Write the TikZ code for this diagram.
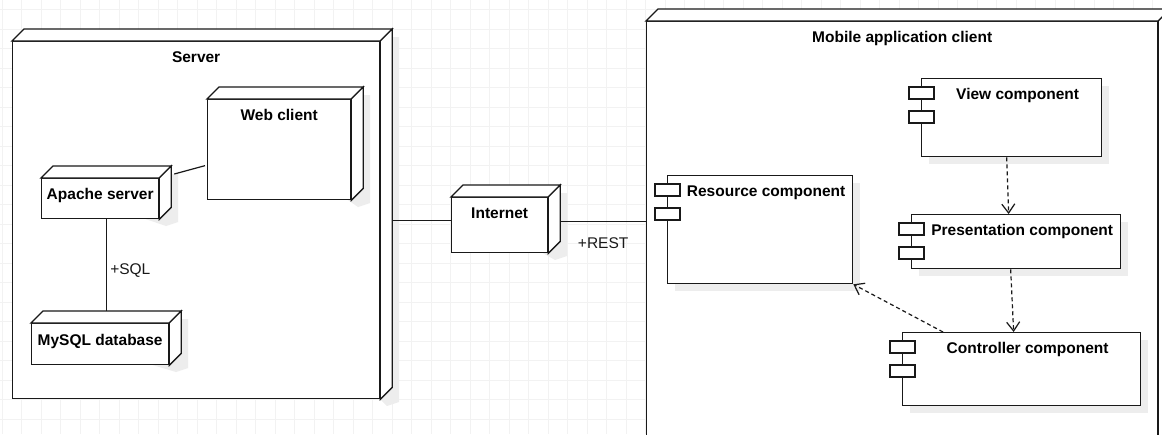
\documentclass[tikz,border=0pt]{standalone}
\usepackage{fontspec}
\setmainfont{Liberation Sans}
\usetikzlibrary{arrows.meta,positioning,calc}

\begin{document}
\begin{tikzpicture}[x=1pt,y=-1pt,line join=miter,
  box/.style={draw=black!90,line width=1.3pt,fill=white},
  shade3d/.style={fill=black!7},
  cube/.style={box,inner sep=0pt,anchor=north west,font=\fontsize{15.5}{18}\selectfont\bfseries,text height=11.5pt,text depth=9pt},
  title/.style={inner sep=0pt,font=\fontsize{15.5}{18}\selectfont\bfseries,text height=11.5pt,text depth=0pt},
  link/.style={black!90,line width=1.2pt},
  dep/.style={link,dash pattern=on 4pt off 3pt,-{Straight Barb[length=9pt,width=13pt,line width=1.2pt]}},
  elabel/.style={inner sep=0pt,font=\fontsize{15.5}{18}\selectfont,text height=11.5pt,text depth=0pt},
  gridline/.style={black!5,line width=0.7pt}]
\useasboundingbox (0,0) rectangle (1162,434);
\clip (0,0) rectangle (1162,434);
% 3d node: name, left, top, right, bottom, text
\def\nodecube#1#2#3#4#5#6{%
  \fill[shade3d] (#2+8,#3+8) -- (#2+20,#3-4) -- (#4+20,#3-4) -- (#4+20,#5+4) -- (#4+8,#5+8) -- cycle;
  \node[cube,minimum width=#4pt-#2pt,minimum height=#5pt-#3pt] (#1) at (#2,#3) {#6};
  \draw[box] (#1.north west) -- ++(12,-12) -- ([shift={(12,-12)}]#1.north east) -- (#1.north east) -- cycle;
  \draw[box] (#1.north east) -- ([shift={(12,-12)}]#1.north east) -- ([shift={(12,-12)}]#1.south east) -- (#1.south east) -- cycle;
}
% component box with two tabs
\def\umlcomp#1#2#3#4#5#6{%
  \fill[shade3d] (#2+8,#3+8) rectangle (#4+8,#5+8);
  \node[cube,minimum width=#4pt-#2pt,minimum height=#5pt-#3pt] (#1) at (#2,#3) {};
  \node[title,xshift=6pt] (#1-name) at ([yshift=-16pt]#1.north) {#6};
  \foreach \t in {9,33} \draw[box] ([shift={(-12,\t)}]#1.north west) rectangle ++(25,12);
}
% grid
\foreach \i in {0,...,59} \draw[gridline] (2.2+19.5*\i,0) -- ++(0,434);
\foreach \j in {0,...,22} \draw[gridline] (0,9.8+19.5*\j) -- ++(1162,0);
% server side
\nodecube{server}{12}{41}{379}{398}{}
\node[title] (server-name) at ([yshift=-16pt]server.north) {Server};
\nodecube{web}{207}{99}{350}{199}{}
\node[title] (web-name) at ([yshift=-16pt]web.north) {Web client};
\nodecube{apache}{41}{178}{158}{218}{Apache server}
\nodecube{mysql}{31}{323}{168}{364}{MySQL database}
\draw[link] ([shift={(15,-4)}]apache.north east) -- ([shift={(-2,16)}]web.west);
\draw[link] ([xshift=6pt]apache.south) -- node[elabel,right=3.5pt,pos=0.54] (sql-lbl) {+SQL} ([shift={(6,-12)}]mysql.north);
% internet
\nodecube{internet}{451}{197}{547}{252}{}
\node[title] (internet-name) at ([yshift=-16pt]internet.north) {Internet};
% mobile client
\nodecube{mobile}{646}{21}{1157}{470}{}
\node[title] (mobile-name) at ([yshift=-16pt]mobile.north) {Mobile application client};
\foreach \n/\xa/\ya/\xb/\yb/\txt in {view/921/78/1101/156/View component,
    res/667/175/852/283/Resource component,
    pres/911/214/1120/268/Presentation component,
    ctrl/902/332/1140/405/Controller component}
  {\umlcomp{\n}{\xa}{\ya}{\xb}{\yb}{\txt}}
% connections
\draw[link] ([xshift=12pt]server.east) -- (internet.west |- server.east);
\draw[link] ([shift={(12,-3.5)}]internet.east) coordinate (inet-out) -- node[elabel,below=14.5pt] (rest-lbl) {+REST} (inet-out -| mobile.west);
\draw[dep] ([xshift=-5pt]view.south) -- ([xshift=-7.5pt]pres.north);
\draw[dep] ([xshift=-5.5pt]pres.south) -- ([xshift=-8pt]ctrl.north);
\draw[dep] ([xshift=41pt]ctrl.north west) -- (res.south east);
\end{tikzpicture}
\end{document}
